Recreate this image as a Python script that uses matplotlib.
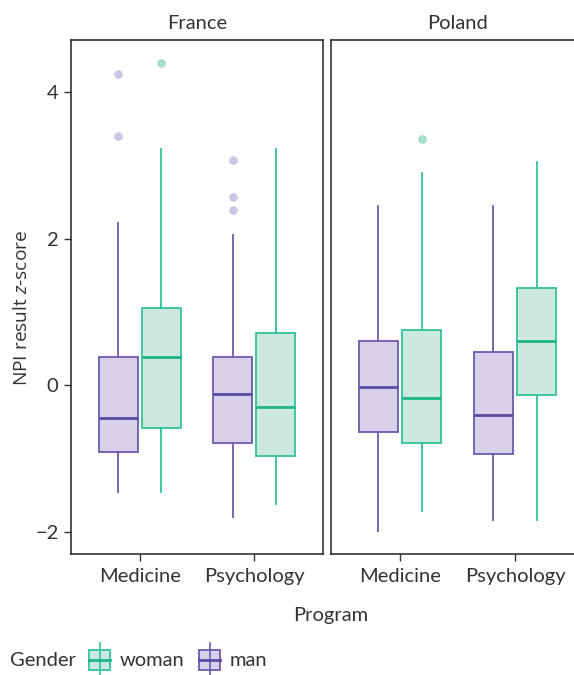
import matplotlib
matplotlib.use("Agg")
import matplotlib.pyplot as plt
from matplotlib.patches import Rectangle
from matplotlib.lines import Line2D

plt.rcParams['font.family'] = ['Lato', 'DejaVu Sans']
plt.rcParams['mathtext.fontset'] = 'custom'
plt.rcParams['mathtext.it'] = 'Open Sans:italic'
plt.rcParams['mathtext.rm'] = 'Open Sans'

countries = ["France", "Poland"]
programs = ["Medicine", "Psychology"]
genders = ["man", "woman"]

# stats: [lower whisker, Q1, median, Q3, upper whisker]
stats = {
    ("France", "Medicine", "man"):     [-1.46, -0.91, -0.45, 0.38, 2.21],
    ("France", "Medicine", "woman"):   [-1.46, -0.58, 0.38, 1.05, 3.22],
    ("France", "Psychology", "man"):   [-1.80, -0.79, -0.12, 0.38, 2.05],
    ("France", "Psychology", "woman"): [-1.62, -0.96, -0.29, 0.72, 3.22],
    ("Poland", "Medicine", "man"):     [-1.99, -0.63, -0.02, 0.60, 2.44],
    ("Poland", "Medicine", "woman"):   [-1.71, -0.78, -0.17, 0.75, 2.89],
    ("Poland", "Psychology", "man"):   [-1.84, -0.93, -0.40, 0.45, 2.44],
    ("Poland", "Psychology", "woman"): [-1.84, -0.13, 0.60, 1.33, 3.04],
}
outliers = {
    ("France", "Medicine", "man"): [4.25, 3.40],
    ("France", "Medicine", "woman"): [4.40],
    ("France", "Psychology", "man"): [3.07, 2.57, 2.39],
    ("Poland", "Medicine", "woman"): [3.36],
}

edge = {"man": "#6b5bb0", "woman": "#33c29c"}
fill = {"man": "#d8d1e9", "woman": "#cce9e0"}
med = {"man": "#5a4aa3", "woman": "#1fb489"}
flier = {"man": "#c9c1e1", "woman": "#9edbc7"}
offset = {"man": -0.188, "woman": 0.188}

W, H = 574, 675
fig = plt.figure(figsize=(W / 100, H / 100), dpi=100)

def fx(px):
    return px / W

def fy(py):
    return 1 - py / H

axes_px = {"France": (71, 252), "Poland": (331, 253)}
top, bottom = 40, 554
txtc = "#333333"
fs = 14.5

for ci, c in enumerate(countries):
    x0, w = axes_px[c]
    ax = fig.add_axes([fx(x0), fy(bottom), w / W, (bottom - top) / H])
    for pi, p in enumerate(programs):
        for g in genders:
            s = stats[(c, p, g)]
            d = dict(whislo=s[0], q1=s[1], med=s[2], q3=s[3], whishi=s[4],
                     fliers=outliers.get((c, p, g), []))
            ax.bxp([d], positions=[pi + 1 + offset[g]], widths=0.34,
                   patch_artist=True, showcaps=False,
                   boxprops=dict(facecolor=fill[g], edgecolor=edge[g], linewidth=1.3),
                   whiskerprops=dict(color=edge[g], linewidth=1.3),
                   medianprops=dict(color=med[g], linewidth=2.0),
                   flierprops=dict(marker='o', markersize=5.2, markerfacecolor=flier[g],
                                   markeredgecolor=flier[g], alpha=0.9))
    ax.set_xlim(0.4, 2.6)
    ax.set_ylim(-2.3, 4.71)
    ax.set_xticks([1, 2])
    ax.set_xticklabels(programs)
    ax.tick_params(axis='both', direction='out', length=5, width=1, color=txtc,
                   labelsize=fs, labelcolor=txtc, pad=4)
    ax.tick_params(axis='x', pad=5)
    for sp in ax.spines.values():
        sp.set_color("#222222")
        sp.set_linewidth(1.1)
    if ci == 0:
        ax.set_yticks([-2, 0, 2, 4])
        ax.set_yticklabels(["\u22122", "0", "2", "4"])
    else:
        ax.set_yticks([])
        ax.spines['right'].set_visible(False)
    ax.set_title(c, fontsize=fs, color=txtc, pad=8)

fig.text(fx(331), fy(615), "Program", fontsize=fs, color=txtc, ha='center', va='center')
fig.text(fx(22), fy(308), r"NPI result $\it{z}$-score", fontsize=13.8, color=txtc,
         rotation=90, ha='center', va='center', family='Open Sans')

# legend
fig.text(fx(10), fy(661), "Gender", fontsize=fs, color=txtc, ha='left', va='center')
for g, kx, tx, lab in [("woman", 89, 120, "woman"), ("man", 199, 230, "man")]:
    fig.add_artist(Line2D([fx(kx + 10.5)] * 2, [fy(643), fy(676)], transform=fig.transFigure,
                          color=edge[g], linewidth=1.2))
    fig.add_artist(Rectangle((fx(kx), fy(670)), 21 / W, 20 / H, transform=fig.transFigure,
                             facecolor=fill[g], edgecolor=edge[g], linewidth=1.3))
    fig.add_artist(Line2D([fx(kx), fx(kx + 21)], [fy(660)] * 2, transform=fig.transFigure,
                          color=med[g], linewidth=2.0))
    fig.text(fx(tx), fy(661), lab, fontsize=fs, color=txtc, ha='left', va='center')

fig.savefig("out.png", dpi=100)
